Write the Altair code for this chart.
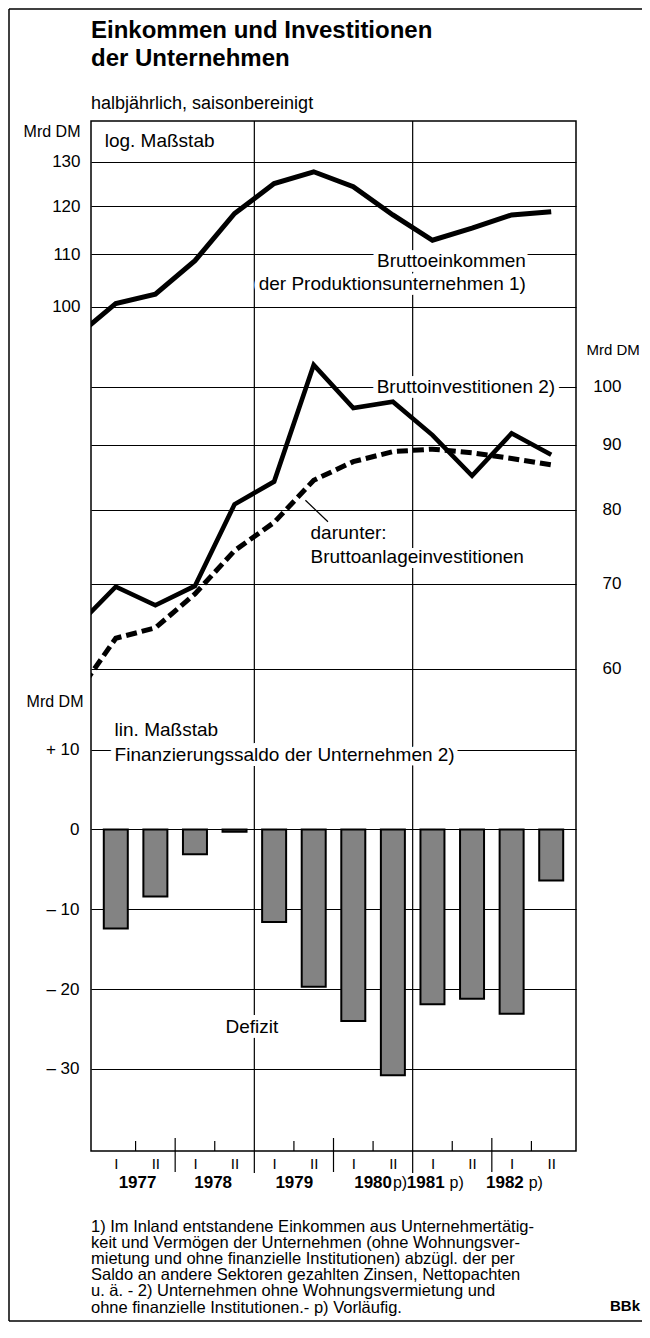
import altair as alt
import pandas as pd

# ---------------- data ----------------
half_years = ["1977 I", "1977 II", "1978 I", "1978 II", "1979 I", "1979 II",
              "1980 I", "1980 II", "1981 I", "1981 II", "1982 I", "1982 II"]

# Mrd DM, log scale, left axis
bruttoeinkommen = [100.6, 102.3, 108.7, 118.4, 125.0, 127.7,
                   124.3, 118.1, 112.8, 115.3, 118.1, 118.8]
bruttoeinkommen_1976_II = 94.7

# Mrd DM, log scale, right axis
bruttoinvestitionen = [69.6, 67.3, 69.7, 80.8, 84.2, 104.0,
                       96.2, 97.3, 91.6, 85.1, 91.9, 88.4]
bruttoinvestitionen_1976_II = 64.7
bruttoanlageinvestitionen = [63.4, 64.6, 68.7, 74.3, 78.2, 84.4,
                             87.3, 88.9, 89.3, 88.7, 87.8, 86.8]
bruttoanlageinvestitionen_1976_II = 57.2

# Mrd DM, linear scale
finanzierungssaldo = [-12.4, -8.4, -3.1, -0.3, -11.6, -19.7,
                      -24.0, -30.8, -21.9, -21.2, -23.1, -6.4]

years = ["1977", "1978", "1979", "1980", "1981", "1982"]
year_suffix = ["", "", "", "p)", "p)", "p)"]

left_ticks = [100, 110, 120, 130]
right_ticks = [60, 70, 80, 90, 100]
lin_ticks = [10, 0, -10, -20, -30]

title_lines = ["Einkommen und Investitionen", "der Unternehmen"]
subtitle = "halbjährlich, saisonbereinigt"
footnote_lines = [
    "1) Im Inland entstandene Einkommen aus Unternehmertätig-",
    "keit und Vermögen der Unternehmen (ohne Wohnungsver-",
    "mietung und ohne finanzielle Institutionen) abzügl. der per",
    "Saldo an andere Sektoren gezahlten Zinsen, Nettopachten",
    "u. ä. - 2) Unternehmen ohne Wohnungsvermietung und",
    "ohne finanzielle Institutionen.- p) Vorläufig.",
]

# ---------------- layout ----------------
FONT = "Liberation Sans"
W, H = 485, 1030
PAD = {"left": 83, "top": 113, "right": 66, "bottom": 171}
LBL = 19  # annotation font size

year_label_x = [1.05, 2.96, 5.01, 7.0, 8.33, 10.33]
suffix_x = [None, None, None, 7.5, 8.93, 10.93]

one = pd.DataFrame({"k": [0]})


def line_df(first, vals):
    return pd.DataFrame({"period": ["1976 II"] + half_years,
                         "t": [i - 0.5 for i in range(13)],
                         "v": [first] + vals})


x_scale = alt.Scale(domain=[0, 12], nice=False, zero=False)
yL = alt.Scale(type="log", domain=[21.67, 140.0], nice=False)
yR = alt.Scale(type="log", domain=[25.04, 161.82], nice=False)
yB = alt.Scale(type="linear", domain=[-40.29, 88.78], nice=False, zero=False)


def xq(field, axis=None):
    return alt.X(f"{field}:Q", scale=x_scale, axis=axis)


common_axis = dict(grid=True, gridColor="black", gridWidth=1.2, gridOpacity=1,
                   domain=False, ticks=False, labelFont=FONT, labelFontSize=17,
                   labelColor="black", labelOverlap=False, labelFlush=False,
                   titleFont=FONT, titleFontSize=16,
                   titleFontWeight="normal", titleColor="black", titleAngle=0,
                   titleBaseline="middle")

axL = alt.Axis(orient="left", values=left_ticks, format="d", labelPadding=11,
               title="Mrd DM", titleAlign="right", titleX=-11, titleY=10,
               **common_axis)
axR = alt.Axis(orient="right", values=right_ticks, format="d", labelAlign="right",
               labelPadding=45, title="Mrd DM", titleAlign="left", titleX=10,
               titleY=228, **{**common_axis, "titleFontSize": 15})
axB = alt.Axis(orient="left", values=lin_ticks,
               labelExpr="datum.value > 0 ? '+ ' + datum.value : (datum.value < 0 ? '\u2013 ' + abs(datum.value) : '0')",
               labelPadding=12, title="Mrd DM", titleAlign="right", titleX=-8,
               titleY=580, **common_axis)
axX = alt.Axis(orient="bottom", values=[i + 0.5 for i in range(12)],
               labelExpr="datum.value % 2 < 1 ? 'I' : 'II'",
               grid=False, domain=False, ticks=False, labelPadding=5,
               labelFont=FONT, labelFontSize=15, labelColor="black",
               labelFlush=False, labelOverlap=False, title=None)


def annotations(rows, scale):
    halos, texts = [], []
    for align in ("left", "right"):
        sub_rows = [r for r in rows if r["align"] == align]
        if not sub_rows:
            continue
        df = pd.DataFrame(sub_rows)
        base = alt.Chart(df).encode(
            x=xq("x"), y=alt.Y("y:Q", scale=scale, axis=None), text="text:N")
        halos.append(base.mark_text(font=FONT, fontSize=LBL, baseline="middle",
                                    align=align, fill="white", stroke="white",
                                    strokeWidth=10, strokeJoin="round"))
        texts.append(base.mark_text(font=FONT, fontSize=LBL, baseline="middle",
                                    align=align, color="black"))
    return halos, texts


# ---------------- left log panel: Bruttoeinkommen ----------------
income = alt.Chart(line_df(bruttoeinkommen_1976_II, bruttoeinkommen)).mark_line(
    color="black", strokeWidth=5, clip=True).encode(
    x=xq("t"), y=alt.Y("v:Q", scale=yL, axis=axL))
haloL, textL = annotations([
    {"text": "log. Maßstab", "x": 0.22, "y": 135.0, "align": "left"},
    {"text": "Bruttoeinkommen", "x": 10.86, "y": 108.7, "align": "right"},
    {"text": "der Produktionsunternehmen 1)", "x": 10.86, "y": 104.3, "align": "right"},
], yL)

# ---------------- right log panel: investments ----------------
invest = alt.Chart(line_df(bruttoinvestitionen_1976_II, bruttoinvestitionen)).mark_line(
    color="black", strokeWidth=4.6, clip=True).encode(
    x=xq("t"), y=alt.Y("v:Q", scale=yR, axis=axR))
fixed = alt.Chart(line_df(bruttoanlageinvestitionen_1976_II, bruttoanlageinvestitionen)).mark_line(
    color="black", strokeWidth=5, strokeDash=[11, 5], clip=True).encode(
    x=xq("t"), y=alt.Y("v:Q", scale=yR, axis=None))
haloR, textR = annotations([
    {"text": "Bruttoinvestitionen 2)", "x": 11.60, "y": 100.0, "align": "right"},
    {"text": "darunter:", "x": 5.42, "y": 76.7, "align": "left"},
    {"text": "Bruttoanlageinvestitionen", "x": 5.42, "y": 73.45, "align": "left"},
], yR)
leader = alt.Chart(pd.DataFrame({"x": [5.29], "x2": [5.86], "y": [81.4], "y2": [78.3]})).mark_rule(
    color="black", strokeWidth=1.2).encode(
    x=xq("x"), x2="x2:Q", y=alt.Y("y:Q", scale=yR, axis=None), y2="y2:Q")

# ---------------- linear panel: Finanzierungssaldo ----------------
bars = alt.Chart(pd.DataFrame({"period": half_years,
                               "t": [i + 0.5 for i in range(12)],
                               "v": finanzierungssaldo})).mark_bar(
    width=24, fill="#838383", stroke="black", strokeWidth=2).encode(
    x=xq("t", axX), y=alt.Y("v:Q", scale=yB, axis=axB), y2=alt.datum(0))
haloB, textB = annotations([
    {"text": "lin. Maßstab", "x": 0.47, "y": 12.47, "align": "left"},
    {"text": "Finanzierungssaldo der Unternehmen 2)", "x": 0.47, "y": 9.34, "align": "left"},
    {"text": "Defizit", "x": 3.27, "y": -24.75, "align": "left"},
], yB)

# ---------------- vertical grid and time ticks ----------------
vgrid = alt.Chart(pd.DataFrame({"t": [4, 8]})).mark_rule(color="black", strokeWidth=1.2).encode(
    x=xq("t"), y=alt.value(0), y2=alt.value(H + 22))
year_sep = alt.Chart(pd.DataFrame({"t": [2, 6, 10]})).mark_rule(color="black", strokeWidth=1.2).encode(
    x=xq("t"), y=alt.value(H - 13), y2=alt.value(H + 21))
mid_ticks = alt.Chart(pd.DataFrame({"t": [1, 3, 5, 7, 9, 11]})).mark_rule(color="black", strokeWidth=1.2).encode(
    x=xq("t"), y=alt.value(H - 10), y2=alt.value(H))

year_text = alt.Chart(pd.DataFrame({"year": years, "x": year_label_x})).mark_text(
    font=FONT, fontSize=17, fontWeight="bold", baseline="middle", align="center", color="black").encode(
    x=xq("x"), y=alt.value(H + 31.5), text="year:N")
suffix_df = pd.DataFrame({"s": [s for s in year_suffix if s],
                          "x": [p for p in suffix_x if p is not None]})
suffix_text = alt.Chart(suffix_df).mark_text(
    font=FONT, fontSize=16, baseline="middle", align="left", color="black").encode(
    x=xq("x"), y=alt.value(H + 32), text="s:N")

# ---------------- titles, notes, frame ----------------
title1 = alt.Chart(one).mark_text(font=FONT, fontSize=24, fontWeight="bold", align="left",
                                  baseline="alphabetic", color="black").encode(
    x=alt.value(0), y=alt.value(-83), text=alt.value(title_lines[0]))
title2 = alt.Chart(one).mark_text(font=FONT, fontSize=24, fontWeight="bold", align="left",
                                  baseline="alphabetic", color="black").encode(
    x=alt.value(0), y=alt.value(-55), text=alt.value(title_lines[1]))
sub = alt.Chart(one).mark_text(font=FONT, fontSize=18, align="left", baseline="alphabetic",
                               color="black").encode(
    x=alt.value(0), y=alt.value(-12), text=alt.value(subtitle))
notes = alt.Chart(one).mark_text(font=FONT, fontSize=16.5, align="left", baseline="alphabetic",
                                 lineHeight=16.2, color="black").encode(
    x=alt.value(0), y=alt.value(1110.7), text=alt.value(footnote_lines))
bbk = alt.Chart(one).mark_text(font=FONT, fontSize=15, fontWeight="bold", align="left",
                               baseline="alphabetic", color="black").encode(
    x=alt.value(519), y=alt.value(1190), text=alt.value("BBk"))

frame_left = alt.Chart(one).mark_rule(color="black", strokeWidth=1.5).encode(
    x=alt.value(-82), y=alt.value(-112), y2=alt.value(1200))
frame_top = alt.Chart(one).mark_rule(color="black", strokeWidth=1.5).encode(
    x=alt.value(-82), x2=alt.value(551), y=alt.value(-112))
frame_bottom = alt.Chart(one).mark_rule(color="black", strokeWidth=1.5).encode(
    x=alt.value(-82), x2=alt.value(551), y=alt.value(1200))

chart = alt.layer(
    bars, income, invest,
    frame_left, frame_top, frame_bottom,
    vgrid, year_sep, mid_ticks,
    *haloL, *haloR, *haloB,
    fixed, leader,
    *textL, *textR, *textB,
    year_text, suffix_text, title1, title2, sub, notes, bbk,
).resolve_scale(y="independent").resolve_axis(x="independent", y="independent").properties(
    width=W, height=H, padding=PAD, autosize=alt.AutoSizeParams(type="none"),
    background="white",
).configure_view(stroke="black", strokeWidth=1.5)

chart.save("out.html", embed_options={"renderer": "svg", "actions": False})
